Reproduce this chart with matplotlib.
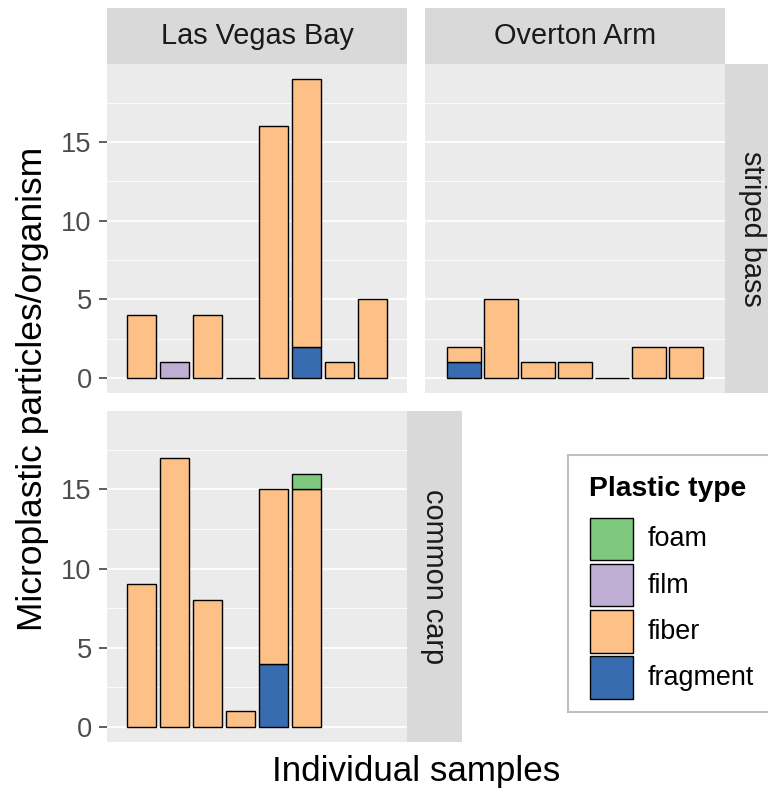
import matplotlib
matplotlib.use("Agg")
import matplotlib.pyplot as plt
from matplotlib.patches import Rectangle
import numpy as np

plt.rcParams['font.family'] = ['Liberation Sans', 'DejaVu Sans']

# ---- data ----
types = ["fragment", "fiber", "film", "foam"]          # stacking order bottom -> top
legend_order = ["foam", "film", "fiber", "fragment"]
colors = {"foam": "#7FC97F", "film": "#BEAED4", "fiber": "#FDC086", "fragment": "#386CB0"}

# Las Vegas Bay, striped bass
lvb_bass_fragment = [0, 0, 0, 0, 0, 2, 0, 0]
lvb_bass_fiber    = [4, 0, 4, 0, 16, 17, 1, 5]
lvb_bass_film     = [0, 1, 0, 0, 0, 0, 0, 0]
lvb_bass_foam     = [0, 0, 0, 0, 0, 0, 0, 0]

# Overton Arm, striped bass
oa_bass_fragment = [1, 0, 0, 0, 0, 0, 0]
oa_bass_fiber    = [1, 5, 1, 1, 0, 2, 2]
oa_bass_film     = [0, 0, 0, 0, 0, 0, 0]
oa_bass_foam     = [0, 0, 0, 0, 0, 0, 0]

# Las Vegas Bay, common carp
lvb_carp_fragment = [0, 0, 0, 0, 4, 0]
lvb_carp_fiber    = [9, 17, 8, 1, 11, 15]
lvb_carp_film     = [0, 0, 0, 0, 0, 0]
lvb_carp_foam     = [0, 0, 0, 0, 0, 1]

yticks = [0, 5, 10, 15]
col_labels = ["Las Vegas Bay", "Overton Arm"]
row_labels = ["striped bass", "common carp"]

panels = {
    ("Las Vegas Bay", "striped bass"): dict(fragment=lvb_bass_fragment, fiber=lvb_bass_fiber,
                                            film=lvb_bass_film, foam=lvb_bass_foam),
    ("Overton Arm", "striped bass"): dict(fragment=oa_bass_fragment, fiber=oa_bass_fiber,
                                          film=oa_bass_film, foam=oa_bass_foam),
    ("Las Vegas Bay", "common carp"): dict(fragment=lvb_carp_fragment, fiber=lvb_carp_fiber,
                                           film=lvb_carp_film, foam=lvb_carp_foam),
}
# free x per column
col_n = {"Las Vegas Bay": max(len(lvb_bass_fiber), len(lvb_carp_fiber)),
         "Overton Arm": len(oa_bass_fiber)}

W, H = 768, 788
fig = plt.figure(figsize=(W / 100, H / 100), dpi=100)

def fr(x0, y0, x1, y1):
    return [x0 / W, 1 - y1 / H, (x1 - x0) / W, (y1 - y0) / H]

PANEL_BG = "#EBEBEB"
STRIP_BG = "#D9D9D9"
STRIP_FS = 20.8

boxes = {
    ("Las Vegas Bay", "striped bass"): (107, 64, 407, 393),
    ("Overton Arm", "striped bass"): (425, 64, 725, 393),
    ("Las Vegas Bay", "common carp"): (107, 411, 407, 742),
}

for key, (x0, y0, x1, y1) in boxes.items():
    col, row = key
    d = panels[key]
    ax = fig.add_axes(fr(x0, y0, x1, y1))
    ax.set_facecolor(PANEL_BG)
    n = col_n[col]
    ax.set_xlim(-1.05, n - 1 + 1.05)
    ax.set_ylim(-0.95, 19.95)
    ax.set_yticks(yticks)
    ax.set_yticks([2.5, 7.5, 12.5, 17.5], minor=True)
    ax.grid(which="major", axis="y", color="white", lw=1.3)
    ax.grid(which="minor", axis="y", color="white", lw=0.6)
    ax.set_axisbelow(True)
    ax.set_xticks([])
    for s in ax.spines.values():
        s.set_visible(False)
    ax.tick_params(axis="y", which="minor", length=0)
    if col == "Las Vegas Bay":
        ax.tick_params(axis="y", which="major", length=6, width=1.1, color="#333333",
                       labelsize=19.6, labelcolor="#4D4D4D", pad=5)
    else:
        ax.tick_params(axis="y", which="major", length=0, labelleft=False)
    m = len(d["fiber"])
    xs = np.arange(m)
    bottom = np.zeros(m)
    totals = np.sum([d[t] for t in types], axis=0)
    for t in types:
        vals = np.array(d[t], dtype=float)
        mask = vals > 0
        ax.bar(xs[mask], vals[mask], bottom=bottom[mask], width=0.9,
               color=colors[t], edgecolor="black", linewidth=1.0, zorder=3)
        bottom += vals
    zero = totals == 0
    if zero.any():
        ax.bar(xs[zero], np.zeros(zero.sum()), width=0.9, color=colors["fiber"],
               edgecolor="black", linewidth=1.0, zorder=3)

# top strips
for col, (x0, x1) in zip(col_labels, [(107, 407), (425, 725)]):
    sa = fig.add_axes(fr(x0, 8, x1, 64))
    sa.set_facecolor(STRIP_BG)
    sa.set_xticks([]); sa.set_yticks([])
    for s in sa.spines.values():
        s.set_visible(False)
    sa.text(0.5, 0.5, col, ha="center", va="center", fontsize=STRIP_FS, color="#1A1A1A",
            transform=sa.transAxes)

# right strips
for row, (x0, y0, x1, y1) in zip(row_labels, [(725, 64, 780, 393), (407, 411, 462, 742)]):
    sa = fig.add_axes(fr(x0, y0, x1, y1))
    sa.set_facecolor(STRIP_BG)
    sa.set_xticks([]); sa.set_yticks([])
    for s in sa.spines.values():
        s.set_visible(False)
    sa.text(0.5, 0.5, row, ha="center", va="center", rotation=-90, fontsize=STRIP_FS,
            color="#1A1A1A", transform=sa.transAxes)

# axis titles
fig.text(416 / W, 1 - 772 / H, "Individual samples", ha="center", va="center", fontsize=25.2)
fig.text(33 / W, 1 - 389 / H, "Microplastic particles/organism", ha="center", va="center",
         rotation=90, fontsize=25.5)

# legend
fig.patches.append(Rectangle((568 / W, 1 - 712 / H), (800 - 568) / W, (712 - 455) / H,
                             transform=fig.transFigure, facecolor="white",
                             edgecolor="#BFBFBF", linewidth=1.5))
fig.text(589 / W, 1 - 489 / H, "Plastic type", ha="left", va="center", fontsize=20.3,
         fontweight="bold")
for i, t in enumerate(legend_order):
    top = 517.5 + i * 46.3
    fig.patches.append(Rectangle((590 / W, 1 - (top + 42.5) / H), 43 / W, 42.5 / H,
                                 transform=fig.transFigure, facecolor=colors[t],
                                 edgecolor="black", linewidth=1.0))
    fig.text(648 / W, 1 - (top + 22) / H, t, ha="left", va="center", fontsize=19.4)

fig.savefig("out.png", dpi=100)
